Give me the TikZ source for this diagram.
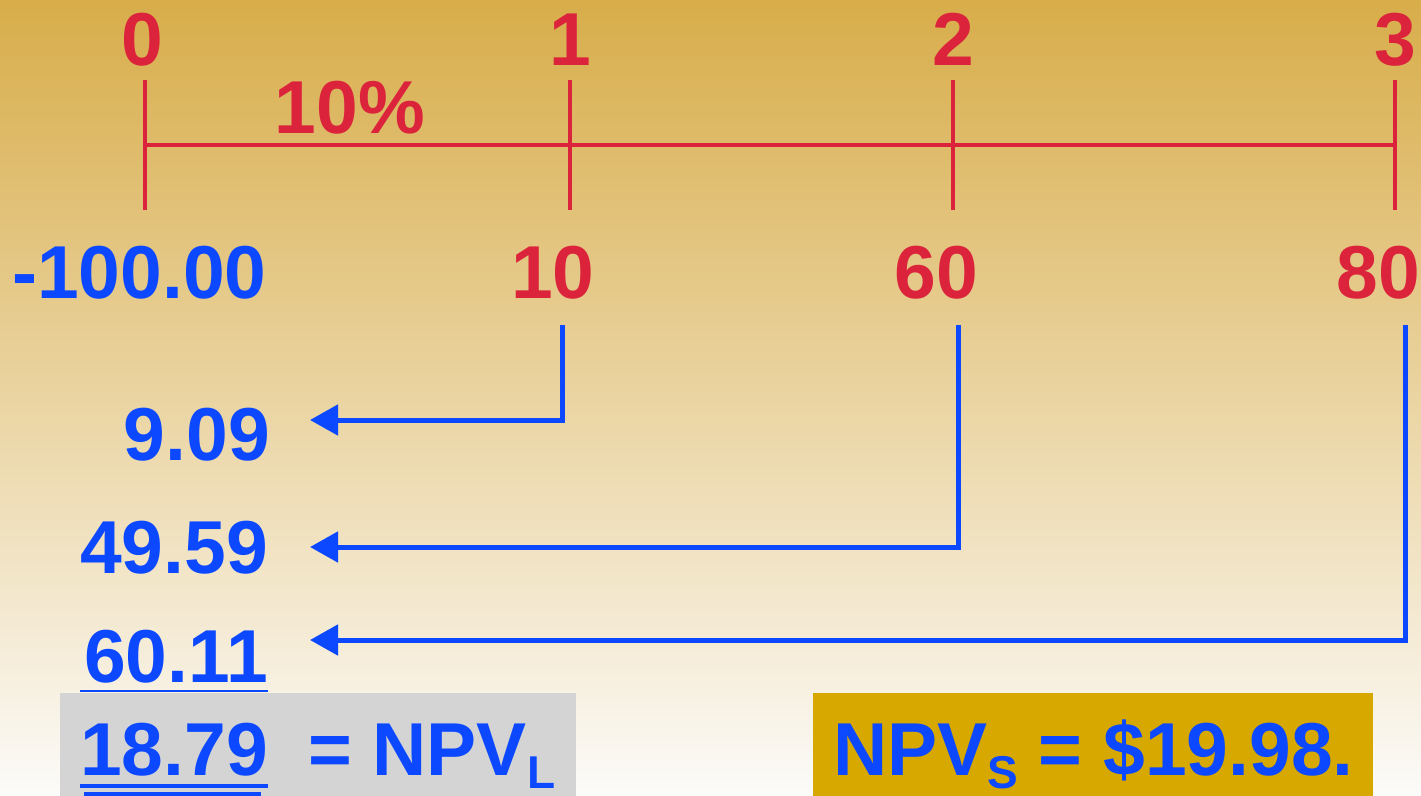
\documentclass[tikz,border=0pt]{standalone}
\usepackage{fontspec}
\setmainfont{Liberation Sans}
\usetikzlibrary{arrows.meta}
\definecolor{tlred}{RGB}{220,35,60}
\definecolor{cfblue}{RGB}{12,72,255}
\definecolor{bgtop}{RGB}{216,173,74}
\definecolor{bgmid}{RGB}{236,218,186}
\definecolor{bgbot}{RGB}{252,251,249}
\definecolor{boxgray}{RGB}{212,212,212}
\definecolor{boxgold}{RGB}{214,168,0}
\begin{document}
\begin{tikzpicture}[x=1pt,y=-1pt,
  big/.style={inner sep=0pt,font=\fontsize{75}{80}\selectfont\bfseries},
  redtxt/.style={big,text=tlred},
  bluetxt/.style={big,text=cfblue},
  tline/.style={draw=tlred,line width=4.5pt},
  flow/.style={draw=cfblue,line width=5pt,-{Triangle[length=28pt,width=30pt]}},
  uline/.style={draw=cfblue}]
\useasboundingbox (0,0) rectangle (1421,795);
\shade[top color=bgtop,middle color=bgmid,bottom color=bgbot] (0,0) rectangle (1421,795);
% boxes
\fill[boxgray] (60,693) rectangle (576,800);
\fill[boxgold] (813,693) rectangle (1373,800);
% timeline
\draw[tline] (145,145) -- (1395,145);
\foreach \x in {145,570,953,1395} \draw[tline] (\x,80) -- (\x,210);
% period labels
\node[redtxt,anchor=base] (p0) at (142,65) {0};
\node[redtxt,anchor=base] (p1) at (570,65) {1};
\node[redtxt,anchor=base] (p2) at (953,65) {2};
\node[redtxt,anchor=base] (p3) at (1395,65) {3};
\node[redtxt,anchor=base] (rate) at (350,133) {10\%};
% cash flows
\node[bluetxt,anchor=base west] (cf0) at (12,298) {-100.00};
\node[redtxt,anchor=base] (cf1) at (553,298) {10};
\node[redtxt,anchor=base] (cf2) at (936,298) {60};
\node[redtxt,anchor=base] (cf3) at (1378,298) {80};
% present values
\node[bluetxt,anchor=base east] (pv1) at (270,460) {9.09};
\node[bluetxt,anchor=base east] (pv2) at (268,573) {49.59};
\node[bluetxt,anchor=base east] (pv3) at (268,682) {60.11};
\node[bluetxt,anchor=base east] (npv) at (268,775) {18.79};
\node[bluetxt,anchor=base west] (npvl) at (308,775) {= NPV\raisebox{-13pt}{\fontsize{46}{46}\selectfont L}};
\node[bluetxt,anchor=base west] (npvs) at (833,775) {NPV\raisebox{-13pt}{\fontsize{46}{46}\selectfont S} = \$19.98.};
% underlines
\draw[uline,line width=2pt] (80,691) -- (268,691);
\draw[uline,line width=4pt] (80,786) -- (268,786);
\draw[uline,line width=4pt] (84,794) -- (261,794);
% arrows
\coordinate (s1) at (562,325); \coordinate (e1) at (310,420);
\coordinate (s2) at (958,325); \coordinate (e2) at (310,547);
\coordinate (s3) at (1405,325); \coordinate (e3) at (310,640);
\draw[flow] (s1) |- (e1);
\draw[flow] (s2) |- (e2);
\draw[flow] (s3) |- (e3);
\end{tikzpicture}
\end{document}
